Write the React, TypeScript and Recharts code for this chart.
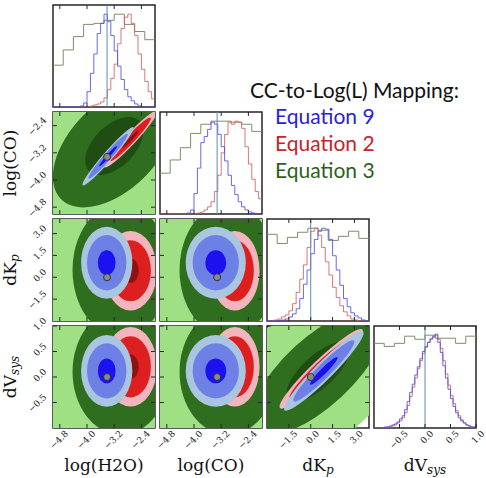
import React from "react";
import {
  ComposedChart,
  Line,
  ReferenceArea,
  ReferenceLine,
  Scatter,
  XAxis,
  YAxis,
} from "recharts";

// parameter axes: log(H2O), log(CO), dK_p, dV_sys
const domains: [number, number][] = [
  [-5, -2],
  [-5, -2],
  [-3, 4],
  [-1, 1],
];
const axisTicks = [
  [-4.8, -4.0, -3.2, -2.4],
  [-4.8, -4.0, -3.2, -2.4],
  [-1.5, 0, 1.5, 3.0],
  [-0.5, 0, 0.5, 1.0],
];
const truths = [-3.41, -3.32, 0, 0];

// fine histograms (Equation 9 / Equation 2), bin start + width
const fineStart = [-5, -5, -3, -1];
const fineWidth = [0.1, 0.1, 0.25, 0.05];

const h2oBlue = [0, 0, 0, 0, 0, 0, 0, 0, 0.01, 0.04, 0.15, 0.33, 0.52, 0.72, 0.82, 0.91, 0.84, 0.7, 0.55, 0.4, 0.27, 0.17, 0.1, 0.06, 0.03, 0.01, 0, 0, 0, 0];
const h2oRed = [0, 0, 0, 0, 0, 0, 0, 0, 0, 0, 0, 0.01, 0.02, 0.03, 0.05, 0.09, 0.17, 0.28, 0.42, 0.62, 0.77, 0.88, 0.91, 0.82, 0.7, 0.52, 0.37, 0.25, 0.15, 0.08];
const h2oGreen = [0.41, 0.56, 0.69, 0.81, 0.82, 0.85, 0.91, 0.81, 0.74, 0.66];

const coBlue = [0, 0, 0, 0, 0, 0, 0, 0, 0.01, 0.04, 0.2, 0.45, 0.7, 0.76, 0.83, 0.9, 0.88, 0.78, 0.66, 0.52, 0.38, 0.28, 0.19, 0.12, 0.07, 0.04, 0.02, 0.01, 0, 0];
const coRed = [0, 0, 0, 0, 0, 0, 0, 0, 0, 0, 0, 0.01, 0.02, 0.04, 0.07, 0.12, 0.22, 0.38, 0.6, 0.78, 0.9, 0.88, 0.91, 0.9, 0.84, 0.66, 0.49, 0.34, 0.22, 0.15];
const coGreen = [0.4, 0.53, 0.65, 0.79, 0.88, 0.91, 0.91, 0.9, 0.88, 0.81];

const dkBlue = [0, 0, 0, 0, 0.01, 0.02, 0.04, 0.07, 0.12, 0.22, 0.36, 0.5, 0.66, 0.8, 0.88, 0.91, 0.9, 0.8, 0.64, 0.5, 0.35, 0.22, 0.14, 0.08, 0.05, 0.03, 0.01, 0];
const dkRed = [0, 0, 0.01, 0.02, 0.04, 0.06, 0.1, 0.17, 0.28, 0.41, 0.55, 0.72, 0.88, 0.91, 0.84, 0.72, 0.58, 0.45, 0.33, 0.23, 0.15, 0.09, 0.05, 0.02, 0.01, 0, 0, 0];
const dkGreen = [0.85, 0.76, 0.82, 0.87, 0.91, 0.89, 0.79, 0.83, 0.88, 0.81];

const dvBlue = [0, 0, 0, 0, 0.01, 0.01, 0.02, 0.03, 0.04, 0.06, 0.09, 0.12, 0.18, 0.26, 0.35, 0.43, 0.52, 0.6, 0.68, 0.75, 0.8, 0.84, 0.87, 0.9, 0.92, 0.84, 0.74, 0.61, 0.49, 0.38, 0.29, 0.21, 0.15, 0.1, 0.07, 0.05, 0.03, 0.02, 0.01, 0.01];
const dvRed = [0, 0, 0, 0, 0, 0.01, 0.01, 0.02, 0.03, 0.05, 0.07, 0.1, 0.15, 0.22, 0.31, 0.4, 0.49, 0.58, 0.66, 0.73, 0.79, 0.84, 0.88, 0.89, 0.91, 0.87, 0.78, 0.66, 0.53, 0.42, 0.32, 0.24, 0.17, 0.12, 0.08, 0.05, 0.03, 0.02, 0.01, 0.01];
const dvGreen = [0.83, 0.8, 0.83, 0.9, 0.87, 0.91, 0.88, 0.88, 0.83, 0.9];

const histBlue = [h2oBlue, coBlue, dkBlue, dvBlue];
const histRed = [h2oRed, coRed, dkRed, dvRed];
const histGreen = [h2oGreen, coGreen, dkGreen, dvGreen];

// 2D posteriors: mean, spread, correlation per mapping
type Blob = { series: "green" | "red" | "blue"; x: number; y: number; sx: number; sy: number; rho: number };

const blobsCOvsH2O: Blob[] = [
  { series: "green", x: -3.2, y: -3.0, sx: 0.95, sy: 0.95, rho: 0.5 },
  { series: "red", x: -2.72, y: -2.8, sx: 0.3, sy: 0.32, rho: 0.96 },
  { series: "blue", x: -3.38, y: -3.3, sx: 0.29, sy: 0.33, rho: 0.97 },
];
const blobsDKvsH2O: Blob[] = [
  { series: "green", x: -3.0, y: 0.5, sx: 0.75, sy: 2.4, rho: 0 },
  { series: "red", x: -2.72, y: 0.45, sx: 0.3, sy: 1.05, rho: 0 },
  { series: "blue", x: -3.42, y: 1.0, sx: 0.29, sy: 0.95, rho: 0 },
];
const blobsDKvsCO: Blob[] = [
  { series: "green", x: -3.0, y: 0.5, sx: 0.75, sy: 2.4, rho: 0 },
  { series: "red", x: -2.8, y: 0.45, sx: 0.28, sy: 1.05, rho: 0 },
  { series: "blue", x: -3.36, y: 1.0, sx: 0.34, sy: 0.95, rho: 0 },
];
const blobsDVvsH2O: Blob[] = [
  { series: "green", x: -3.0, y: 0.1, sx: 0.75, sy: 0.65, rho: 0 },
  { series: "red", x: -2.72, y: 0.2, sx: 0.3, sy: 0.3, rho: 0 },
  { series: "blue", x: -3.42, y: 0.12, sx: 0.29, sy: 0.27, rho: 0 },
];
const blobsDVvsCO: Blob[] = [
  { series: "green", x: -3.0, y: 0.1, sx: 0.75, sy: 0.65, rho: 0 },
  { series: "red", x: -2.8, y: 0.2, sx: 0.28, sy: 0.3, rho: 0 },
  { series: "blue", x: -3.36, y: 0.12, sx: 0.34, sy: 0.27, rho: 0 },
];
const blobsDVvsDK: Blob[] = [
  { series: "green", x: 0.5, y: 0.1, sx: 2.4, sy: 0.65, rho: 0.72 },
  { series: "red", x: 0.72, y: 0.16, sx: 1.1, sy: 0.3, rho: 0.95 },
  { series: "blue", x: 0.9, y: 0.12, sx: 1.05, sy: 0.3, rho: 0.95 },
];

// contour levels (in sigma) outer -> inner
const levels = { green: [3.7, 1.9, 0.9], red: [2.6, 2.0, 0.8], blue: [2.6, 2.0, 0.9] };
const fills = {
  green: ["#9ee083", "#2f6e1e", "#1f4d13"],
  red: ["#f2b4bd", "#dd1f1f", "#8e1212"],
  blue: ["#a9c5e0", "#6c80e6", "#1b12ef"],
};

const SIZE = 102;
const PAD = 40;
const colLeft = [53, 160, 267, 374];
const rowTop = [5, 112, 219, 326];
const spine = "#262626";
const truthColor = "#5b8db5";
const serif = "DejaVu Serif";

function fmt(v: number) {
  return (v < 0 ? "\u2212" : "") + Math.abs(v).toFixed(1);
}

function stepData(start: number, width: number, values: number[]) {
  const pts = values.map((v, i) => ({ x: start + i * width, y: v }));
  pts.push({ x: start + values.length * width, y: values[values.length - 1] });
  return pts;
}

function xTick(showLabel: boolean) {
  return (props: any) => {
    const { x, y, payload } = props;
    return (
      <g>
        <line x1={x} x2={x} y1={y} y2={y - 4} stroke={spine} />
        <line x1={x} x2={x} y1={y - SIZE} y2={y - SIZE + 4} stroke={spine} />
        {showLabel ? (
          <text
            transform={`translate(${x + 7},${y + 4}) rotate(-45)`}
            textAnchor="end"
            dominantBaseline="central"
            fontSize={9}
            fontFamily={serif}
            fill="#222"
          >
            {fmt(payload.value)}
          </text>
        ) : null}
      </g>
    );
  };
}

function yTick(showLabel: boolean) {
  return (props: any) => {
    const { x, y, payload } = props;
    return (
      <g>
        <line x1={x} x2={x + 4} y1={y} y2={y} stroke={spine} />
        <line x1={x + SIZE} x2={x + SIZE - 4} y1={y} y2={y} stroke={spine} />
        {showLabel ? (
          <text
            transform={`translate(${x - 8},${y - 7}) rotate(-45)`}
            textAnchor="end"
            dominantBaseline="central"
            fontSize={9}
            fontFamily={serif}
            fill="#222"
          >
            {fmt(payload.value)}
          </text>
        ) : null}
      </g>
    );
  };
}

function blobShape(kx: number, ky: number) {
  return (props: any) => {
    const { cx, cy, payload } = props;
    const b = payload as Blob;
    const Sx = b.sx * kx;
    const Sy = b.sy * ky;
    const a = Sx * Sx;
    const c = Sy * Sy;
    const off = -b.rho * Sx * Sy;
    const t = Math.sqrt(((a - c) / 2) ** 2 + off * off);
    const l1 = (a + c) / 2 + t;
    const l2 = Math.max((a + c) / 2 - t, 0.5);
    const ang = (0.5 * Math.atan2(2 * off, a - c) * 180) / Math.PI;
    return (
      <g transform={`translate(${cx},${cy}) rotate(${ang})`}>
        {levels[b.series].map((k, i) => (
          <ellipse key={i} rx={k * Math.sqrt(l1)} ry={k * Math.sqrt(l2)} fill={fills[b.series][i]} />
        ))}
      </g>
    );
  };
}

function truthMarker(props: any) {
  return <circle cx={props.cx} cy={props.cy} r={3.5} fill="#8a8a8a" stroke="#333" strokeWidth={1} />;
}

function HistPanel({ p }: { p: number }) {
  const [lo, hi] = domains[p];
  const last = p === 3;
  const greenW = (hi - lo) / histGreen[p].length;
  return (
    <div style={{ position: "absolute", left: colLeft[p] - PAD, top: rowTop[p] - PAD }}>
      <ComposedChart
        width={SIZE + 2 * PAD}
        height={SIZE + 2 * PAD}
        margin={{ top: PAD, right: PAD, left: PAD, bottom: 0 }}
      >
        <XAxis
          type="number"
          dataKey="x"
          domain={[lo, hi]}
          allowDataOverflow
          ticks={axisTicks[p]}
          interval={0}
          height={PAD}
          tickSize={0}
          tickMargin={0}
          axisLine={false}
          tickLine={false}
          tick={xTick(last)}
        />
        <YAxis type="number" dataKey="y" domain={[0, 1]} allowDataOverflow hide />
        <Line
          data={stepData(lo, greenW, histGreen[p])}
          dataKey="y"
          type="stepAfter"
          dot={false}
          stroke="#7d8f6a"
          strokeWidth={1}
          isAnimationActive={false}
        />
        <Line
          data={stepData(fineStart[p], fineWidth[p], histRed[p])}
          dataKey="y"
          type="stepAfter"
          dot={false}
          stroke="#d75e5e"
          strokeOpacity={0.85}
          strokeWidth={1}
          isAnimationActive={false}
        />
        <Line
          data={stepData(fineStart[p], fineWidth[p], histBlue[p])}
          dataKey="y"
          type="stepAfter"
          dot={false}
          stroke="#4f4fe6"
          strokeOpacity={0.85}
          strokeWidth={1}
          isAnimationActive={false}
        />
        <ReferenceLine x={truths[p]} stroke={truthColor} strokeWidth={1} />
        <ReferenceArea x1={lo} x2={hi} y1={0} y2={1} fill="none" stroke={spine} strokeWidth={1.5} />
      </ComposedChart>
    </div>
  );
}

function ContourPanel({ r, c, blobs }: { r: number; c: number; blobs: Blob[] }) {
  const [xlo, xhi] = domains[c];
  const [ylo, yhi] = domains[r];
  const kx = SIZE / (xhi - xlo);
  const ky = SIZE / (yhi - ylo);
  return (
    <div style={{ position: "absolute", left: colLeft[c] - PAD, top: rowTop[r] - PAD }}>
      <ComposedChart
        width={SIZE + 2 * PAD}
        height={SIZE + 2 * PAD}
        margin={{ top: PAD, right: PAD, left: 0, bottom: 0 }}
      >
        <XAxis
          type="number"
          dataKey="x"
          domain={[xlo, xhi]}
          allowDataOverflow
          ticks={axisTicks[c]}
          interval={0}
          height={PAD}
          tickSize={0}
          tickMargin={0}
          axisLine={false}
          tickLine={false}
          tick={xTick(r === 3)}
        />
        <YAxis
          type="number"
          dataKey="y"
          domain={[ylo, yhi]}
          allowDataOverflow
          ticks={axisTicks[r]}
          interval={0}
          width={PAD}
          tickSize={0}
          tickMargin={0}
          axisLine={false}
          tickLine={false}
          tick={yTick(c === 0)}
        />
        <Scatter data={blobs} shape={blobShape(kx, ky)} isAnimationActive={false} />
        <ReferenceLine x={truths[c]} stroke={truthColor} strokeWidth={1.2} />
        <ReferenceLine y={truths[r]} stroke={truthColor} strokeWidth={1.2} />
        <Scatter data={[{ x: truths[c], y: truths[r] }]} shape={truthMarker} isAnimationActive={false} />
        <ReferenceArea x1={xlo} x2={xhi} y1={ylo} y2={yhi} fill="none" stroke={spine} strokeWidth={1.5} />
      </ComposedChart>
    </div>
  );
}

const labelStyle = { fontFamily: serif, fontSize: 17, fill: "#111" };

function Labels() {
  const sub = (main: string, s: string) => (
    <>
      {main}
      <tspan fontStyle="italic" fontSize={12} dy={3}>
        {s}
      </tspan>
    </>
  );
  const xNames = [<>log(H2O)</>, <>log(CO)</>, sub("dK", "p"), sub("dV", "sys")];
  return (
    <svg width={486} height={478} style={{ position: "absolute", left: 0, top: 0 }}>
      {xNames.map((n, i) => (
        <text key={i} x={colLeft[i] + SIZE / 2} y={471} textAnchor="middle" {...labelStyle}>
          {n}
        </text>
      ))}
      {[1, 2, 3].map((r) => (
        <text
          key={r}
          transform={`translate(16,${rowTop[r] + SIZE / 2}) rotate(-90)`}
          textAnchor="middle"
          {...labelStyle}
        >
          {xNames[r]}
        </text>
      ))}
      <g fontFamily="Lato" fontSize={21}>
        <text x={250} y={98} fill="#111">CC-to-Log(L) Mapping:</text>
        <text x={275} y={124} fill="#2b22d8">Equation 9</text>
        <text x={275} y={151} fill="#c8242a">Equation 2</text>
        <text x={275} y={178} fill="#2f5f1a">Equation 3</text>
      </g>
    </svg>
  );
}

export default function App() {
  return (
    <div style={{ position: "absolute", left: 0, top: 0, width: 486, height: 478, background: "#fff" }}>
      <Labels />
      {[0, 1, 2, 3].map((p) => (
        <HistPanel key={p} p={p} />
      ))}
      <ContourPanel r={1} c={0} blobs={blobsCOvsH2O} />
      <ContourPanel r={2} c={0} blobs={blobsDKvsH2O} />
      <ContourPanel r={2} c={1} blobs={blobsDKvsCO} />
      <ContourPanel r={3} c={0} blobs={blobsDVvsH2O} />
      <ContourPanel r={3} c={1} blobs={blobsDVvsCO} />
      <ContourPanel r={3} c={2} blobs={blobsDVvsDK} />
    </div>
  );
}
